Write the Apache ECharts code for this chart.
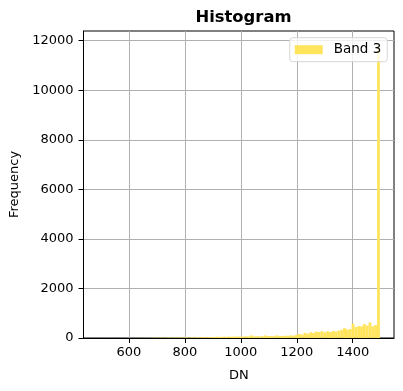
<!DOCTYPE html>
<html><head><meta charset="utf-8">
<script src="https://cdn.jsdelivr.net/npm/echarts@6/dist/echarts.min.js"></script>
<style>html,body{margin:0;padding:0;background:#fff}#c{width:403px;height:391px}</style>
</head><body><div id="c"></div>
<script>
// Histogram of Band 3 (100 bins)
const seriesName = 'Band 3';
const binStart = 488;
const binWidth = 10.09;
const counts = [
  0,0,1,0,2,0,0,1,3,0, 2,1,4,2,3,5,2,6,4,8,
  12,10,14,9,15,18,12,20,16,22, 19,25,20,28,24,30,27,33,29,35,
  38,42,50,46,55,48,58,52,60,56, 62,58,70,65,105,68,72,66,75,100,
  78,82,76,105,85,80,92,88,105,98, 130,160,140,210,175,230,205,260,240,275,
  230,270,240,285,260,300,330,400,340,360, 580,440,480,470,560,500,630,470,520,11800
];
const xTicks = [600, 800, 1000, 1200, 1400];
const yTicks = [0, 2000, 4000, 6000, 8000, 10000, 12000];

const bins = counts.map((c, i) => [binStart + i * binWidth, binStart + (i + 1) * binWidth, c]);
const font = 'DejaVu Sans';
const chart = echarts.init(document.getElementById('c'), null, {renderer: 'canvas'});
chart.setOption({
  animation: false,
  title: {text: 'Histogram', left: 238.5, textAlign: 'center', top: 5,
    textStyle: {fontFamily: font, fontSize: 16.4, fontWeight: 'bold', color: '#000'}},
  legend: {
    right: 15.7, top: 37.7, data: [{name: seriesName, icon: 'rect'}],
    itemWidth: 28, itemHeight: 9, itemGap: 8, padding: [4, 6, 4, 5],
    borderColor: '#d6d6d6', borderWidth: 1, borderRadius: 3,
    backgroundColor: 'rgba(255,255,255,0.8)',
    textStyle: {fontFamily: font, fontSize: 13.5, lineHeight: 16, color: '#000', padding: [0, 0, 0, 6]}
  },
  grid: {left: 83.5, right: 9, top: 31, bottom: 53, containLabel: false,
    show: true, borderColor: '#000', borderWidth: 1, backgroundColor: 'transparent'},
  xAxis: {
    type: 'value', min: 438, max: 1547.5,
    name: 'DN', nameLocation: 'middle', nameGap: 31,
    nameTextStyle: {fontFamily: font, fontSize: 13, color: '#000'},
    axisLine: {show: true, onZero: false, lineStyle: {color: '#000', width: 1}},
    axisTick: {show: true, length: 5, customValues: xTicks, lineStyle: {color: '#000'}},
    axisLabel: {customValues: xTicks, formatter: v => String(v), fontFamily: font, fontSize: 13, color: '#000', margin: 8},
    splitLine: {show: true, lineStyle: {color: '#b0b0b0', width: 1}}
  },
  yAxis: {
    type: 'value', min: 0, max: 12391,
    name: 'Frequency', nameLocation: 'middle', nameGap: 56,
    nameTextStyle: {fontFamily: font, fontSize: 13, color: '#000'},
    axisLine: {show: true, lineStyle: {color: '#000', width: 1}},
    axisTick: {show: true, length: 5, customValues: yTicks, lineStyle: {color: '#000'}},
    axisLabel: {customValues: yTicks, formatter: v => String(v), fontFamily: font, fontSize: 13, color: '#000', margin: 10},
    splitLine: {show: true, lineStyle: {color: '#b0b0b0', width: 1}}
  },
  series: [{
    name: seriesName, type: 'custom',
    itemStyle: {color: '#FFE45C'},
    encode: {x: [0, 1], y: 2},
    data: bins,
    renderItem: function (params, api) {
      const p0 = api.coord([api.value(0), api.value(2)]);
      const p1 = api.coord([api.value(1), 0]);
      return {type: 'rect', shape: {x: p0[0], y: p0[1], width: p1[0] - p0[0], height: p1[1] - p0[1]},
        style: {fill: '#FFE45C'}};
    }
  }]
});
</script></body></html>
